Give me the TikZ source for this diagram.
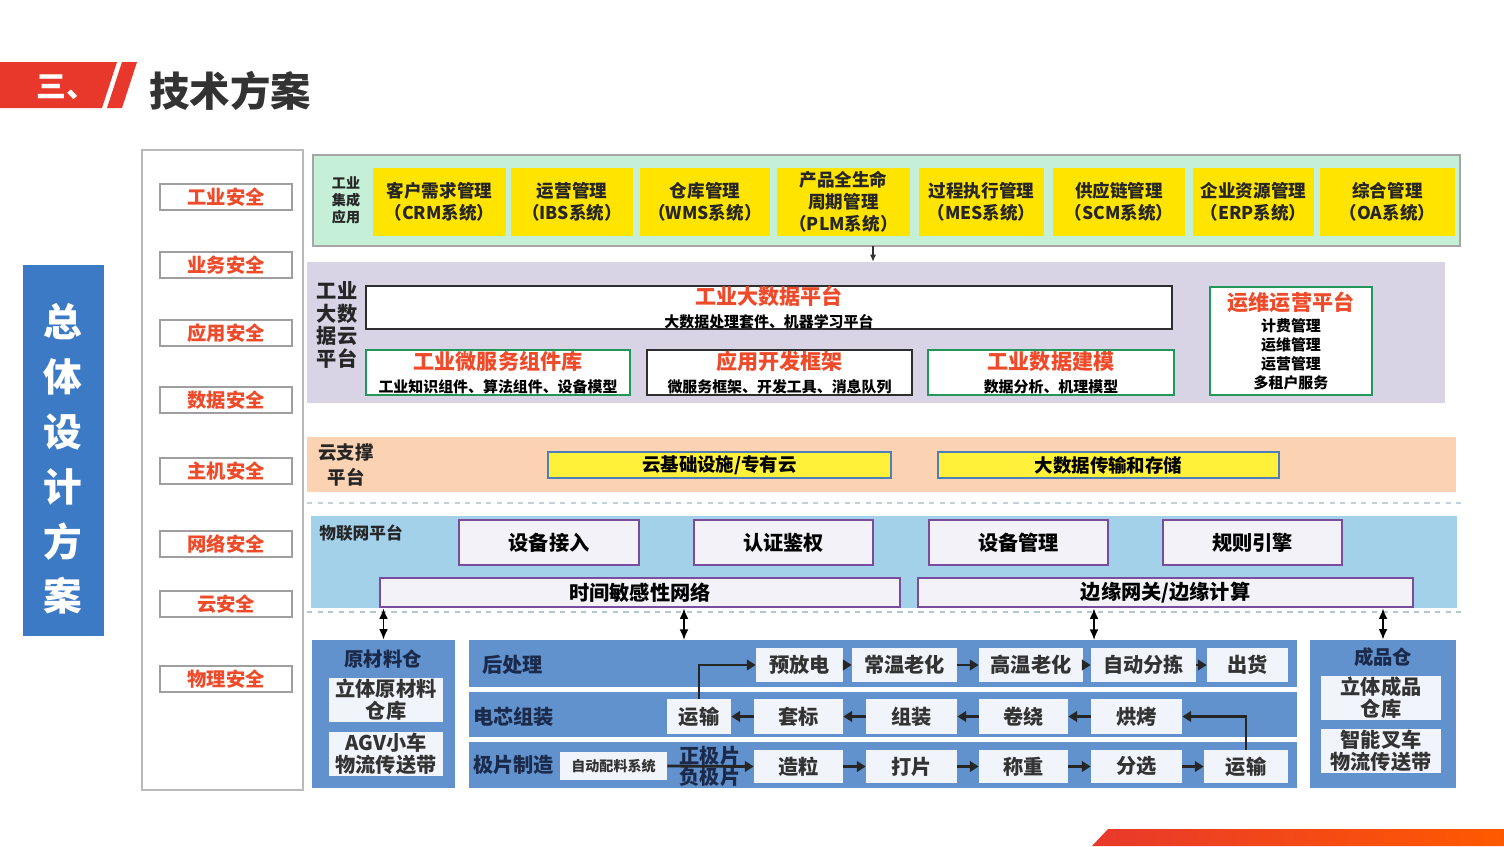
\documentclass[tikz,border=0pt]{standalone}
\usepackage{fontspec}
\setmainfont{Noto Sans CJK SC}
\usetikzlibrary{arrows.meta}

\definecolor{hdrred}{HTML}{E8382C}
\definecolor{titlegray}{HTML}{333333}
\definecolor{leftblue}{HTML}{3D7AC6}
\definecolor{secred}{HTML}{EE4B2B}
\definecolor{appgreen}{HTML}{C5EFD6}
\definecolor{appyellow}{HTML}{FFE400}
\definecolor{bdlav}{HTML}{D8D4E6}
\definecolor{darkline}{HTML}{2E2E2E}
\definecolor{modgreen}{HTML}{23965A}
\definecolor{cloudorange}{HTML}{FBD3B3}
\definecolor{cloudyellow}{HTML}{FFF03A}
\definecolor{cloudblue}{HTML}{4F7FB8}
\definecolor{iotblue}{HTML}{A3D1EA}
\definecolor{iotpurple}{HTML}{7B4B9E}
\definecolor{iotwhite}{HTML}{F3F2F8}
\definecolor{btmblue}{HTML}{6192CD}
\definecolor{btmwhite}{HTML}{F1F4FA}
\definecolor{navytext}{HTML}{1B2A4A}

\tikzset{
  pxbox/.style n args={4}{minimum width={(#3-#1)*0.02cm}, minimum height={(#4-#2)*0.02cm}, at={({(#1+#3)/2},{(#2+#4)/2})}},
  secbox/.style={draw=gray!75, line width=0.9pt, fill=white, inner sep=0pt, text=secred, font=\bfseries\fontsize{11}{13}\selectfont},
  appbox/.style={fill=appyellow, inner sep=0pt, align=center, text=black!85, font=\bfseries\fontsize{10}{12.5}\selectfont},
  modbox/.style={fill=white, draw=darkline, line width=1.4pt, inner sep=0pt, align=center, font=\bfseries\fontsize{8.5}{13}\selectfont},
  greenmod/.style={modbox, draw=modgreen},
  cloudbox/.style={fill=cloudyellow, draw=cloudblue, line width=1.1pt, inner sep=0pt, font=\bfseries\fontsize{10.5}{12}\selectfont},
  iotbox/.style={fill=iotwhite, draw=iotpurple, line width=1.5pt, inner sep=0pt, font=\bfseries\fontsize{11.5}{13}\selectfont},
  panel/.style={fill=btmblue, inner sep=0pt},
  stepbox/.style={fill=btmwhite, inner sep=0pt, align=center, text=black!80, font=\bfseries\fontsize{11.5}{12.5}\selectfont},
  lbl/.style={inner sep=0pt, align=center, text=black!85, font=\bfseries\fontsize{11}{13}\selectfont},
  flow/.style={-{Triangle[length=5pt,width=6pt]}, line width=1.6pt, black!85},
  dbl/.style={{Latex[length=6pt,width=5pt]}-{Latex[length=6pt,width=5pt]}, line width=1pt, black},
}

\begin{document}
\begin{tikzpicture}[x=0.02cm,y=-0.02cm]
\useasboundingbox[fill=white] (0,0) rectangle (1504,846);
% header
\fill[hdrred] (0,62) -- (117,62) -- (102,108) -- (0,108) -- cycle;
\fill[hdrred] (122,62) -- (137,62) -- (122,108) -- (107,108) -- cycle;
\node[text=white,font=\bfseries\fontsize{17}{20}\selectfont] (secno) at (66,87) {三、};
\node[text=titlegray,font=\bfseries\fontsize{23}{26}\selectfont] (title) at (230,91) {技术方案};
\shade[left color=hdrred, right color=orange!70!red] (1092,846) -- (1108,829) -- (1504,829) -- (1504,846) -- cycle;
% left column
\node[fill=leftblue, pxbox={23}{265}{104}{636}] (ztbox) {};
\node[text=white, align=center, font=\bfseries\fontsize{22}{31.2}\selectfont] (zttext) at (63,459) {总\\体\\设\\计\\方\\案};
\node[draw=gray!55, fill=white, line width=0.8pt, pxbox={142}{150}{303}{790}] (seccol) {};
\node[secbox, pxbox={160}{184}{292}{210}] (gyaq) {工业安全};
\node[secbox, pxbox={160}{252}{292}{278}] (ywaq) {业务安全};
\node[secbox, pxbox={160}{320}{292}{346}] (yyaq) {应用安全};
\node[secbox, pxbox={160}{387}{292}{413}] (sjaq) {数据安全};
\node[secbox, pxbox={160}{458}{292}{484}] (zjaq) {主机安全};
\node[secbox, pxbox={160}{531}{292}{557}] (wlaq) {网络安全};
\node[secbox, pxbox={160}{591}{292}{617}] (yaq) {云安全};
\node[secbox, pxbox={160}{666}{292}{692}] (wlaq2) {物理安全};
% industrial applications
\node[fill=appgreen, draw=gray!70, line width=1pt, pxbox={313}{155}{1460}{246}] (appband) {};
\node[lbl, font=\bfseries\fontsize{8}{9.6}\selectfont] (applbl) at (346,200) {工业\\集成\\应用};
\node[appbox, pxbox={373}{168}{506}{236}] (crm) {客户需求管理\\（CRM系统）};
\node[appbox, pxbox={511}{168}{633}{236}] (ibs) {运营管理\\（IBS系统）};
\node[appbox, pxbox={640}{168}{770}{236}] (wms) {仓库管理\\（WMS系统）};
\node[appbox, pxbox={777}{168}{910}{236}] (plm) {产品全生命\\周期管理\\（PLM系统）};
\node[appbox, pxbox={919}{168}{1044}{236}] (mes) {过程执行管理\\（MES系统）};
\node[appbox, pxbox={1053}{168}{1185}{236}] (scm) {供应链管理\\（SCM系统）};
\node[appbox, pxbox={1193}{168}{1314}{236}] (erp) {企业资源管理\\（ERP系统）};
\node[appbox, pxbox={1320}{168}{1455}{236}] (oa) {综合管理\\（OA系统）};
% big data cloud platform
\node[fill=bdlav, pxbox={307}{262}{1445}{403}] (bdband) {};
\coordinate (appout) at (873,246);
\draw[-{Latex[length=4pt,width=3.5pt]}, gray!40!black, line width=0.6pt] (appout) -- (appout |- bdband.north);
\node[lbl, font=\bfseries\fontsize{11.5}{13}\selectfont] (bdlbl) at (337,325) {工业\\大数\\据云\\平台};
\node[modbox, pxbox={366}{286}{1172}{329}] (bdp) {{\color{secred}\fontsize{12}{14}\selectfont 工业大数据平台}\\大数据处理套件、机器学习平台};
\node[greenmod, pxbox={366}{350}{630}{395}] (msl) {{\color{secred}\fontsize{12}{14}\selectfont 工业微服务组件库}\\工业知识组件、算法组件、设备模型};
\node[modbox, pxbox={647}{350}{912}{395}] (adf) {{\color{secred}\fontsize{12}{14}\selectfont 应用开发框架}\\微服务框架、开发工具、消息队列};
\node[greenmod, pxbox={928}{350}{1174}{395}] (idm) {{\color{secred}\fontsize{12}{14}\selectfont 工业数据建模}\\数据分析、机理模型};
\node[greenmod, pxbox={1210}{287}{1372}{395}, font=\bfseries\fontsize{8.5}{10.8}\selectfont] (ops) {{\color{secred}\fontsize{12}{14}\selectfont 运维运营平台}\\[1pt]计费管理\\运维管理\\运营管理\\多租户服务};
% cloud support platform
\node[fill=cloudorange, pxbox={307}{437}{1456}{492}] (cloudband) {};
\node[lbl, font=\bfseries\fontsize{10.5}{14.7}\selectfont] (cloudlbl) at (346,465) {云支撑\\平台};
\node[cloudbox, pxbox={548}{452}{891}{478}] (infra) {云基础设施/专有云};
\node[cloudbox, pxbox={938}{452}{1279}{478}] (bdts) {大数据传输和存储};
\draw[dashed, cyan!25!gray!45, line width=1pt] (307,503) -- (1466,503);
% IoT platform
\node[fill=iotblue, pxbox={311}{516}{1457}{608}] (iotband) {};
\node[lbl, anchor=west, font=\bfseries\fontsize{9.5}{11}\selectfont] (iotlbl) at (319,533) {物联网平台};
\node[iotbox, pxbox={459}{520}{639}{565}] (sbjr) {设备接入};
\node[iotbox, pxbox={694}{520}{873}{565}] (rzjq) {认证鉴权};
\node[iotbox, pxbox={929}{520}{1108}{565}] (sbgl) {设备管理};
\node[iotbox, pxbox={1163}{520}{1342}{565}] (gzyq) {规则引擎};
\node[iotbox, pxbox={380}{578}{900}{607}] (tsn) {时间敏感性网络};
\node[iotbox, pxbox={918}{578}{1413}{607}] (edge) {边缘网关/边缘计算};
\draw[dashed, cyan!30!gray!55, line width=1pt] (307,612) -- (1466,612);
% raw material store
\node[panel, pxbox={312}{640}{455}{788}] (rawp) {};
\node[lbl, text=navytext, font=\bfseries\fontsize{11}{13}\selectfont] (rawlbl) at (383,659) {原材料仓};
\node[stepbox, pxbox={329}{678}{443}{722}] (raw1) {立体原材料\\仓库};
\node[stepbox, pxbox={329}{732}{443}{776}] (raw2) {AGV小车\\物流传送带};
% production lines
\node[panel, pxbox={469}{640}{1297}{687}] (rowa) {};
\node[panel, pxbox={469}{692}{1297}{737}] (rowb) {};
\node[panel, pxbox={469}{742}{1297}{788}] (rowc) {};
\node[lbl, anchor=west, text=navytext, font=\bfseries\fontsize{11.5}{13}\selectfont] (hcl) at (482,665) {后处理};
\node[lbl, anchor=west, text=navytext, font=\bfseries\fontsize{11.5}{13}\selectfont] (dxzz) at (473,717) {电芯组装};
\node[lbl, anchor=west, text=navytext, font=\bfseries\fontsize{11.5}{13}\selectfont] (jpzz) at (473,765) {极片制造};
\node[stepbox, pxbox={756}{648}{843}{682}] (yfd) {预放电};
\node[stepbox, pxbox={852}{648}{957}{682}] (cwlh) {常温老化};
\node[stepbox, pxbox={979}{648}{1083}{682}] (gwlh) {高温老化};
\node[stepbox, pxbox={1091}{648}{1196}{682}] (zdfj) {自动分拣};
\node[stepbox, pxbox={1207}{648}{1288}{682}] (ch) {出货};
\node[stepbox, pxbox={667}{699}{731}{734}] (ysb) {运输};
\node[stepbox, pxbox={754}{699}{843}{734}] (tb) {套标};
\node[stepbox, pxbox={866}{699}{957}{734}] (zz) {组装};
\node[stepbox, pxbox={979}{699}{1068}{734}] (jr) {卷绕};
\node[stepbox, pxbox={1091}{699}{1182}{734}] (hk) {烘烤};
\node[stepbox, pxbox={560}{752}{667}{780}, font=\bfseries\fontsize{8}{10}\selectfont] (zdpl) {自动配料系统};
\node[stepbox, pxbox={754}{750}{843}{783}] (zl) {造粒};
\node[stepbox, pxbox={866}{750}{957}{783}] (dp) {打片};
\node[stepbox, pxbox={979}{750}{1068}{783}] (cz) {称重};
\node[stepbox, pxbox={1091}{750}{1182}{783}] (fx) {分选};
\node[stepbox, pxbox={1204}{750}{1288}{783}] (ysc) {运输};
\node[lbl, text=navytext, font=\bfseries\fontsize{11.5}{13}\selectfont] (zjp) at (710,756) {正极片};
\node[lbl, text=navytext, font=\bfseries\fontsize{11.5}{13}\selectfont] (fjp) at (710,777) {负极片};
\draw[flow] (ysb.north) |- (yfd.west);
\draw[flow] (yfd.east) -- (cwlh.west);
\draw[flow] (cwlh.east) -- (gwlh.west);
\draw[flow] (gwlh.east) -- (zdfj.west);
\draw[flow] (zdfj.east) -- (ch.west);
\draw[flow] (hk.west) -- (jr.east);
\draw[flow] (jr.west) -- (zz.east);
\draw[flow] (zz.west) -- (tb.east);
\draw[flow] (tb.west) -- (ysb.east);
\draw[flow] (ysc.north) |- (hk.east);
\draw[flow] (zdpl.east) -- (zl.west);
\draw[flow] (zl.east) -- (dp.west);
\draw[flow] (dp.east) -- (cz.west);
\draw[flow] (cz.east) -- (fx.west);
\draw[flow] (fx.east) -- (ysc.west);
% finished goods store
\node[panel, pxbox={1310}{640}{1456}{788}] (finp) {};
\node[lbl, text=navytext, font=\bfseries\fontsize{11}{13}\selectfont] (finlbl) at (1383,657) {成品仓};
\node[stepbox, pxbox={1321}{676}{1441}{720}] (fin1) {立体成品\\仓库};
\node[stepbox, pxbox={1321}{729}{1441}{773}] (fin2) {智能叉车\\物流传送带};
% links between IoT and shop floor
\coordinate (linka) at (684,640);
\coordinate (linkb) at (1094,640);
\draw[dbl] (rawp.north) -- (rawp.north |- tsn.south);
\draw[dbl] (linka) -- (linka |- tsn.south);
\draw[dbl] (linkb) -- (linkb |- edge.south);
\draw[dbl] (finp.north) -- (finp.north |- edge.south);
\end{tikzpicture}
\end{document}
